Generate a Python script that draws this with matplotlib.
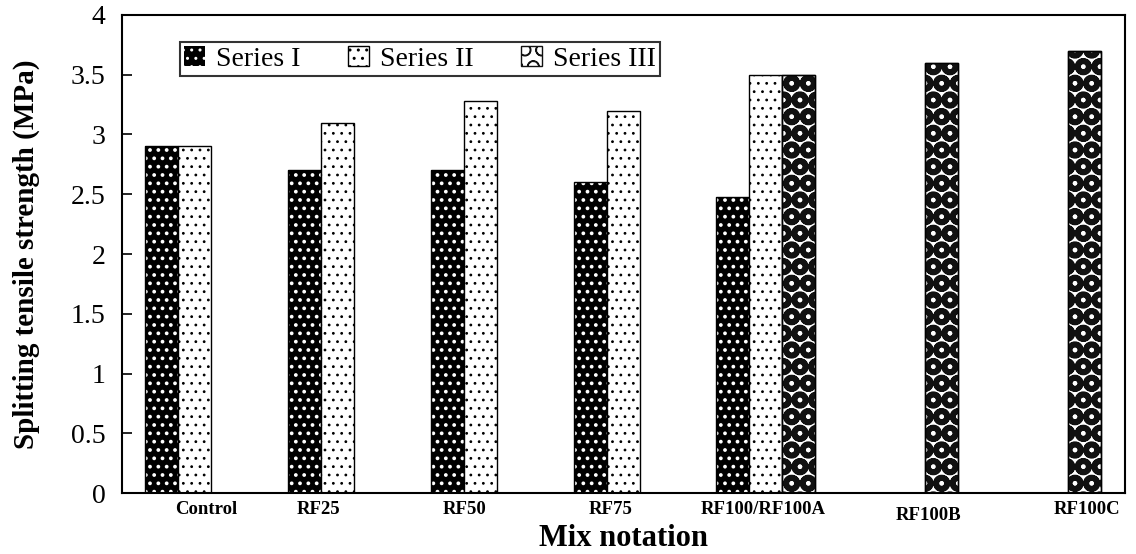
import matplotlib as mpl
import matplotlib.pyplot as plt
import numpy as np

mixes = ["Control", "RF25", "RF50", "RF75", "RF100/RF100A", "RF100B", "RF100C"]
series_1 = [2.9, 2.7, 2.7, 2.6, 2.48, np.nan, np.nan]
series_2 = [2.9, 3.1, 3.28, 3.2, 3.5, np.nan, np.nan]
series_3 = [np.nan, np.nan, np.nan, np.nan, 3.5, 3.6, 3.7]
label_pos = [0.08, 0.87, 1.89, 2.91, 3.98, 5.14, 6.25]
label_drop = [0, 0, 0, 0, 0, 1, 0]

plt.rcParams['font.family'] = ['Liberation Serif', 'DejaVu Serif']

fig = plt.figure(figsize=(11.36, 5.54), dpi=100)
ax = fig.add_axes([0.1074, 0.110, 0.883, 0.863])

x = np.arange(len(mixes))
w = 0.231

# series I: black bars with white dots
with mpl.rc_context({'hatch.linewidth': 1.5}):
    b1 = ax.bar(x - w, series_1, w, color='black', edgecolor='white',
                hatch='..', linewidth=0, label='Series I')
ax.bar(x - w, series_1, w, fill=False, edgecolor='black', linewidth=1.0)

# series II: white bars with sparse black dots
with mpl.rc_context({'hatch.linewidth': 0.8}):
    b2 = ax.bar(x, series_2, w, color='white', edgecolor='black',
                hatch='..', linewidth=1.0, label='Series II')

# series III: dark balls pattern
with mpl.rc_context({'hatch.linewidth': 4.0}):
    b3 = ax.bar(x + w, series_3, w, color='white', edgecolor='#111111',
                hatch='O', linewidth=1.0, label='Series III')
ax.bar(x + w, series_3, w, fill=False, edgecolor='black', linewidth=1.0)

ax.set_xlim(-0.508, 6.515)
ax.set_ylim(0, 4)
ax.set_yticks(np.arange(0, 4.01, 0.5))
ax.set_yticklabels(['0', '0.5', '1', '1.5', '2', '2.5', '3', '3.5', '4'])
ax.tick_params(axis='y', direction='in', length=7, width=1.2, labelsize=20, pad=12)
ax.set_xticks([])
for s in ax.spines.values():
    s.set_linewidth(1.5)

for pos, name, drop in zip(label_pos, mixes, label_drop):
    ax.text(pos, -0.034 - 0.013 * drop, name, ha='center', va='center',
            fontsize=13.5, fontweight='bold',
            transform=ax.get_xaxis_transform())

ax.set_xlabel('Mix notation', fontsize=22, fontweight='bold', labelpad=22)
ax.set_ylabel('Splitting tensile strength (MPa)', fontsize=21, fontweight='bold',
              labelpad=22)

leg = ax.legend(handles=[b1, b2, b3], loc='upper left', ncol=3,
                bbox_to_anchor=(0.058, 0.9435), borderaxespad=0, fontsize=20,
                frameon=True, fancybox=False, edgecolor='black',
                handlelength=0.75, handleheight=0.75, handletextpad=0.4,
                columnspacing=1.7, borderpad=0.15)
leg.get_frame().set_linewidth(1.5)

fig.savefig('out.png', dpi=100)
